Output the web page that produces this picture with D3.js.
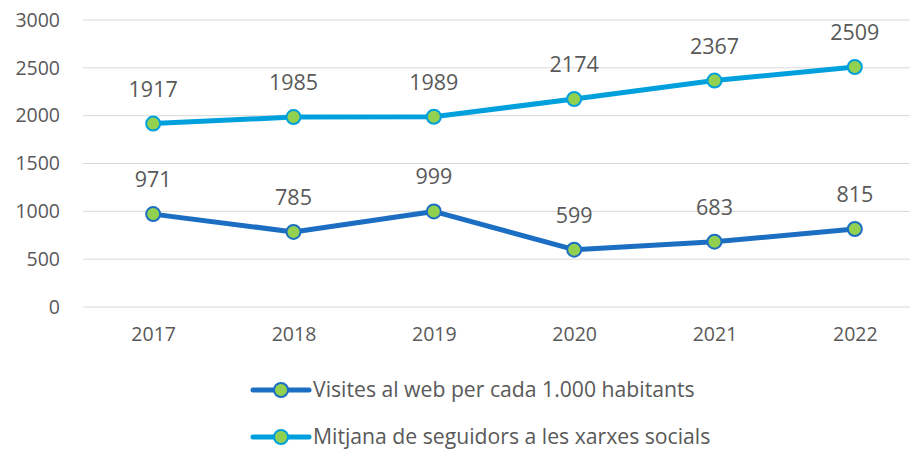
<!DOCTYPE html>
<html>
<head>
<meta charset="utf-8">
<script src="https://cdn.jsdelivr.net/npm/d3@7"></script>
<style>
  body { margin: 0; background: #fff; }
  svg { display: block; font-family: "Open Sans", "DejaVu Sans", sans-serif; }
</style>
</head>
<body>
<svg id="chart" width="910" height="450"></svg>
<script>
// Data
const years = ['2017', '2018', '2019', '2020', '2021', '2022'];
const visites = [971, 785, 999, 599, 683, 815];
const seguidors = [1917, 1985, 1989, 2174, 2367, 2509];
const yTicks = [0, 500, 1000, 1500, 2000, 2500, 3000];
const seriesNames = ['Visites al web per cada 1.000 habitants', 'Mitjana de seguidors a les xarxes socials'];

const colors = ['#1B6EC2', '#00A0DC'];
const markerFill = '#92D050';
const textColor = '#595959';

const svg = d3.select('#chart');
const margin = { left: 83, right: -15, top: 20, bottom: 143 };
const width = 910 - margin.left - margin.right;
const height = 450 - margin.top - margin.bottom;

const g = svg.append('g').attr('transform', `translate(${margin.left},${margin.top})`);

const x = d3.scalePoint().domain(years).range([0, width]).padding(0.5);
const y = d3.scaleLinear().domain([0, 3000]).range([height, 0]);

// Grid lines
g.append('g')
    .selectAll('line')
    .data(yTicks)
    .join('line')
    .attr('x1', 0)
    .attr('x2', width)
    .attr('y1', d => y(d))
    .attr('y2', d => y(d))
    .attr('stroke', '#d9d9d9')
    .attr('stroke-width', 1);

// Y axis labels
const yAxis = g.append('g')
    .call(d3.axisLeft(y).tickValues(yTicks).tickFormat(d3.format('d')).tickSize(0).tickPadding(23));
yAxis.select('.domain').remove();
yAxis.selectAll('text')
    .attr('fill', textColor)
    .attr('font-size', 19.5)
    .attr('font-family', '"Open Sans", sans-serif');

// X axis labels
const xAxis = g.append('g')
    .attr('transform', `translate(0,${height})`)
    .call(d3.axisBottom(x).tickSize(0).tickPadding(20));
xAxis.select('.domain').remove();
xAxis.selectAll('text')
    .attr('fill', textColor)
    .attr('font-size', 19.5)
    .attr('font-family', '"Open Sans", sans-serif');

const line = d3.line()
    .x((d, i) => x(years[i]))
    .y(d => y(d));

[visites, seguidors].forEach((values, si) => {
    g.append('path')
        .datum(values)
        .attr('fill', 'none')
        .attr('stroke', colors[si])
        .attr('stroke-width', 5)
        .attr('stroke-linejoin', 'round')
        .attr('d', line);

    g.append('g')
        .selectAll('circle')
        .data(values)
        .join('circle')
        .attr('cx', (d, i) => x(years[i]))
        .attr('cy', d => y(d))
        .attr('r', 7)
        .attr('fill', markerFill)
        .attr('stroke', colors[si])
        .attr('stroke-width', 2);

    g.append('g')
        .selectAll('text')
        .data(values)
        .join('text')
        .attr('x', (d, i) => x(years[i]))
        .attr('y', d => y(d) - 27)
        .attr('text-anchor', 'middle')
        .attr('fill', textColor)
        .attr('font-size', 21.5)
        .text(d => d);
});

// Legend
const legend = svg.append('g');
const legendY = [390, 437];
seriesNames.forEach((name, i) => {
    const row = legend.append('g').attr('transform', `translate(253,${legendY[i]})`);
    row.append('line')
        .attr('x1', 0).attr('x2', 56)
        .attr('y1', 0).attr('y2', 0)
        .attr('stroke', colors[i])
        .attr('stroke-width', 5)
        .attr('stroke-linecap', 'round');
    row.append('circle')
        .attr('cx', 28).attr('cy', 0).attr('r', 7)
        .attr('fill', markerFill)
        .attr('stroke', colors[i])
        .attr('stroke-width', 2);
    row.append('text')
        .attr('x', 60).attr('y', 0)
        .attr('dy', '0.35em')
        .attr('fill', textColor)
        .attr('font-size', 21.2)
        .text(name);
});
</script>
</body>
</html>
